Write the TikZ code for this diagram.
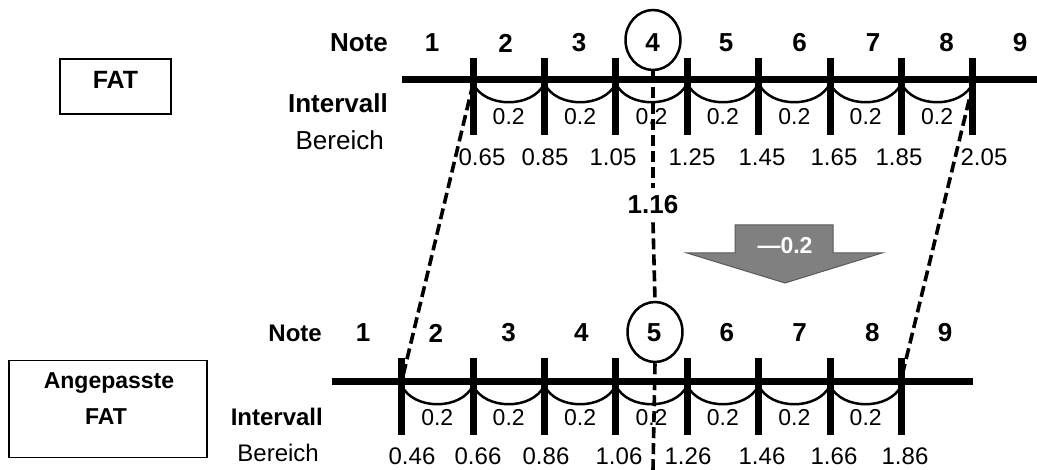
\documentclass[tikz,border=0pt]{standalone}
\usepackage{fontspec}
\setmainfont{Liberation Sans}
\usetikzlibrary{shapes.geometric,calc}
\definecolor{arrowgray}{HTML}{808080}
\definecolor{arrowedge}{HTML}{5A5A5A}
\begin{document}
\begin{tikzpicture}[x=1pt,y=-1pt,
  axisline/.style={line width=7pt},
  tickbar/.style={line width=7pt},
  arcline/.style={line width=2.5pt},
  guide/.style={line width=3.6pt, dash pattern=on 11pt off 5pt},
  hdrtop/.style={font=\fontsize{26}{30}\selectfont\bfseries, inner sep=0pt},
  hdrbot/.style={font=\fontsize{24}{28}\selectfont\bfseries, inner sep=0pt},
  rngtop/.style={font=\fontsize{26}{30}\selectfont, inner sep=0pt},
  rngbot/.style={font=\fontsize{24}{28}\selectfont, inner sep=0pt},
  intv/.style={font=\fontsize{23}{27}\selectfont, inner sep=1pt},
  val/.style={font=\fontsize{24}{28}\selectfont, inner sep=1pt},
  ring/.style={ellipse, draw, line width=2.5pt, minimum width=55pt, minimum height=60pt, inner sep=0pt},
  frame/.style={draw, line width=1.5pt, rectangle, inner sep=0pt},
  boxtxt/.style={inner sep=0pt, font=\fontsize{23}{27}\selectfont\bfseries}
]
\useasboundingbox (0,0) rectangle (1037,470);

% ---------- boxes ----------
\node[frame, minimum width=111pt, minimum height=55pt] (fatbox) at (115.5,86.5) {};
\node[boxtxt, font=\fontsize{25}{30}\selectfont\bfseries] (fattxt) at (115.5,80) {FAT};
\node[frame, minimum width=198pt, minimum height=97pt] (afatbox) at (108,409) {};
\node[boxtxt] (afat1) at (109,383) {Angepasste};
\node[boxtxt] (afat2) at (106,417) {FAT};

% ---------- top scale ----------
\coordinate (tl) at (402,80);
\coordinate (tr) at (1037,80);
\foreach \i in {0,...,7}{
  \pgfmathsetmacro\tx{473+71.4*\i}
  \coordinate (tt\i) at (\tx,58);
  \coordinate (tm\i) at (\tx,83.5);
  \coordinate (tb\i) at (\tx,135);
}
\foreach \i [evaluate=\i as \j using int(\i+1)] in {0,...,6}{
  \draw[arcline] (tm\i) .. controls +(12,25) and +(-12,25) .. (tm\j);
  \node[intv] (ti\i) at ($(tm\i)!0.5!(tm\j)+(0,33.5)$) {0.2};
}
\draw[axisline] (tl) -- (tr);
\foreach \i in {0,...,7}{ \draw[tickbar] (tt\i) -- (tb\i); }

\node[hdrtop, anchor=east] (tnote) at (388,43) {Note};
\foreach \k in {1,...,9}{ \node[hdrtop] (tn\k) at ({432+73.5*(\k-1)},43) {\k}; }
\node[hdrtop, anchor=east] (tint) at (388,103) {Intervall};
\node[rngtop, anchor=east] (tber) at (384,140) {Bereich};
\foreach \v/\x [count=\c] in {0.65/482,0.85/545,1.05/613,1.25/692,1.45/762,1.65/834,1.85/899,2.05/984}{
  \node[val] (tv\c) at (\x,157) {\v};
}

% ---------- bottom scale ----------
\coordinate (bl) at (332,382);
\coordinate (br) at (973,382);
\foreach \i in {0,...,7}{
  \pgfmathsetmacro\tx{401.6+71.4*\i}
  \coordinate (bt\i) at (\tx,358);
  \coordinate (bm\i) at (\tx,385.5);
  \coordinate (bb\i) at (\tx,435);
}
\foreach \i [evaluate=\i as \j using int(\i+1)] in {0,...,6}{
  \draw[arcline] (bm\i) .. controls +(12,25) and +(-12,25) .. (bm\j);
  \node[intv] (bi\i) at ($(bm\i)!0.5!(bm\j)+(0,32.5)$) {0.2};
}
\draw[axisline] (bl) -- (br);
\foreach \i in {0,...,7}{ \draw[tickbar] (bt\i) -- (bb\i); }

\node[hdrbot, anchor=east] (bnote) at (322,333) {Note};
\foreach \k in {1,...,9}{ \node[hdrtop] (bn\k) at ({363+72.75*(\k-1)},333) {\k}; }
\node[hdrbot, anchor=east] (bint) at (323,417) {Intervall};
\node[rngbot, anchor=east] (bber) at (319,453) {Bereich};
\foreach \v/\x [count=\c] in {0.46/412,0.66/478,0.86/546,1.06/619,1.26/688,1.46/762,1.66/834,1.86/905}{
  \node[val] (bv\c) at (\x,456) {\v};
}

% ---------- highlighted notes and guide ----------
\node[ring] (c4) at (653,40) {};
\node[ring] (c5) at (655,332) {};
\node[hdrtop, inner sep=8pt] (v116) at (653,205) {1.16};
\coordinate (vend) at (653,470);
\draw[guide] (c4.south) -- (v116.north);
\draw[guide] (v116.south) -- (c5.north);
\draw[guide] (c5.south) -- (vend);

% ---------- slanted guides ----------
\coordinate (ls) at (473,84);
\coordinate (le) at (402,380);
\coordinate (rs) at (973,84);
\coordinate (re) at (901,380);
\draw[guide] (ls) -- (le);
\draw[guide] (rs) -- (re);

% ---------- shift arrow ----------
\draw[fill=arrowgray, draw=arrowedge, line width=1pt]
  (735,225) -- (833,225) -- (833,253) -- (882,253) -- (785,283) -- (687,253) -- (735,253) -- cycle;
\node[inner sep=0pt, text=white, font=\fontsize{23}{27}\selectfont\bfseries] (shift) at (785,246) {—0.2};
\end{tikzpicture}
\end{document}
